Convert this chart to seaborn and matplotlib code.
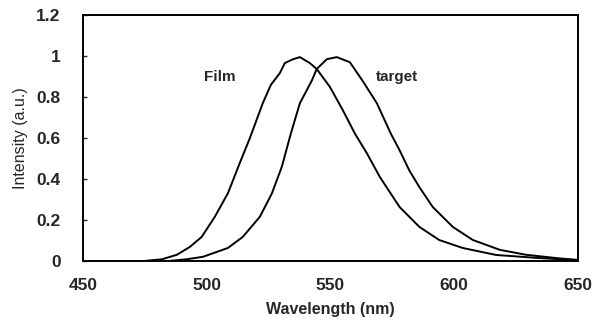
import matplotlib
matplotlib.use("Agg")
import matplotlib.pyplot as plt
import seaborn as sns
import pandas as pd

film_wl = [475, 482, 488, 493.2, 498, 503.3, 508.6, 513.4, 517.5, 522.7, 526, 529.6,
           531.6, 535, 537.7, 541.7, 544.5, 549.8, 555, 560, 564.7, 570, 578, 586,
           594, 603.5, 617, 633, 650]
film_int = [0.0, 0.008, 0.03, 0.068, 0.117, 0.215, 0.33, 0.478, 0.60, 0.77, 0.86, 0.917,
            0.966, 0.985, 0.995, 0.966, 0.937, 0.85, 0.737, 0.62, 0.527, 0.41, 0.263, 0.166,
            0.102, 0.063, 0.029, 0.015, 0.003]

target_wl = [485, 492, 498.5, 508.6, 514.6, 521.5, 526.4, 530.4, 534, 537.7, 542.5, 544.5,
             548.6, 552.6, 557.9, 563, 568.8, 574.5, 578, 582, 586, 591.4, 599.5, 607.6,
             618.5, 629, 642.7, 650]
target_int = [0.0, 0.008, 0.02, 0.063, 0.117, 0.215, 0.33, 0.46, 0.62, 0.77, 0.88, 0.937,
              0.985, 0.995, 0.97, 0.88, 0.77, 0.62, 0.54, 0.44, 0.36, 0.263, 0.166, 0.102,
              0.054, 0.03, 0.012, 0.005]

series_names = ["Film", "target"]
x_ticks = [450, 500, 550, 600, 650]
y_ticks = [0, 0.2, 0.4, 0.6, 0.8, 1, 1.2]
y_tick_labels = ["0", "0.2", "0.4", "0.6", "0.8", "1", "1.2"]

df = pd.concat([
    pd.DataFrame({"wl": film_wl, "int": film_int, "series": series_names[0]}),
    pd.DataFrame({"wl": target_wl, "int": target_int, "series": series_names[1]}),
])

sns.set_style("ticks")
plt.rcParams["font.family"] = ["Liberation Sans", "DejaVu Sans"]

fig = plt.figure(figsize=(6.05, 3.29), dpi=100)
ax = fig.add_axes([0.137, 0.207, 0.818, 0.747])
sns.lineplot(data=df, x="wl", y="int", units="series", estimator=None,
             color="black", linewidth=1.4, ax=ax, legend=False, sort=False)

ax.set_xlim(450, 650)
ax.set_ylim(0, 1.2)
ax.set_xticks(x_ticks)
ax.set_xticklabels([str(t) for t in x_ticks], fontsize=12.5, fontweight="bold")
ax.set_yticks(y_ticks)
ax.set_yticklabels(y_tick_labels, fontsize=12.5, fontweight="bold")
ax.tick_params(axis="y", direction="in", length=3, width=1, pad=16)
ax.tick_params(axis="x", direction="in", length=0, pad=12)
for s in ax.spines.values():
    s.set_visible(True)
    s.set_linewidth(1.4)
    s.set_color("black")

ax.set_xlabel("Wavelength (nm)", fontsize=11.5, fontweight="bold", labelpad=7)
ax.set_ylabel("Intensity (a.u.)", fontsize=11.5, labelpad=6)

ax.text(499, 0.9, "Film", fontsize=11, fontweight="bold", va="center", ha="left")
ax.text(568.5, 0.9, "target", fontsize=11, fontweight="bold", va="center", ha="left")

fig.savefig("out.png", dpi=100)
